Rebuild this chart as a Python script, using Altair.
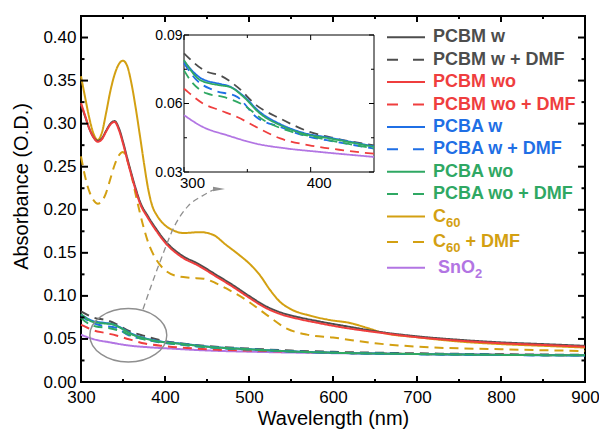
import altair as alt
import pandas as pd

# ---------------- data ----------------
series_names = ["PCBM w", "PCBM w + DMF", "PCBM wo", "PCBM wo + DMF",
                "PCBA w", "PCBA w + DMF", "PCBA wo", "PCBA wo + DMF",
                "C60", "C60 + DMF", "SnO2"]
# legend text split into (main text, subscript, trailing text)
legend_main = ["PCBM w", "PCBM w + DMF", "PCBM wo", "PCBM wo + DMF",
               "PCBA w", "PCBA w + DMF", "PCBA wo", "PCBA wo + DMF",
               "C", "C", "SnO"]
legend_sub = ["", "", "", "", "", "", "", "", "60", "60", "2"]
legend_tail = ["", "", "", "", "", "", "", "", "", "+ DMF", ""]
series_colors = ["#4d4d4d", "#4d4d4d", "#ef3e3e", "#ef3e3e",
                 "#1f6fe5", "#1f6fe5", "#2fa863", "#2fa863",
                 "#d3a012", "#d3a012", "#b275e3"]
series_dashed = [False, True, False, True, False, True, False, True, False, True, False]

pcbm_wl = [300, 305, 310, 315, 320, 325, 330, 335, 340, 345, 350, 355, 360, 365, 370,
           380, 390, 400, 420, 440, 460, 480, 500, 520, 540, 560, 580, 620, 650, 700,
           750, 800, 850, 900]
pcbm_w_ab = [0.322, 0.308, 0.294, 0.284, 0.280, 0.283, 0.292, 0.300, 0.303, 0.295,
             0.279, 0.260, 0.242, 0.225, 0.210, 0.192, 0.177, 0.164, 0.147, 0.137,
             0.125, 0.113, 0.100, 0.088, 0.080, 0.075, 0.071, 0.064, 0.059, 0.053,
             0.049, 0.046, 0.044, 0.042]
pcbm_wo_ab = [0.324, 0.309, 0.294, 0.284, 0.279, 0.282, 0.291, 0.299, 0.302, 0.293,
              0.277, 0.258, 0.240, 0.223, 0.208, 0.190, 0.175, 0.162, 0.145, 0.135,
              0.123, 0.111, 0.098, 0.086, 0.078, 0.073, 0.069, 0.062, 0.058, 0.052,
              0.048, 0.045, 0.043, 0.041]

c60_wl = [300, 305, 310, 315, 320, 325, 330, 335, 340, 345, 350, 355, 360, 365, 370,
          375, 380, 385, 390, 395, 400, 410, 422, 442, 457, 473, 489, 501, 513, 525,
          537, 549, 573, 596, 620, 640, 660, 700, 750, 800, 850, 900]
c60_ab = [0.355, 0.330, 0.306, 0.288, 0.281, 0.290, 0.313, 0.338, 0.357, 0.369,
          0.373, 0.367, 0.347, 0.319, 0.287, 0.254, 0.224, 0.204, 0.194, 0.187,
          0.182, 0.176, 0.173, 0.174, 0.171, 0.159, 0.147, 0.137, 0.124, 0.107,
          0.093, 0.085, 0.077, 0.072, 0.0686, 0.063, 0.057, 0.052, 0.047, 0.044,
          0.042, 0.040]

c60_dmf_wl = [300, 305, 310, 315, 320, 325, 330, 335, 340, 345, 350, 355, 360, 365, 370,
              375, 380, 390, 400, 414, 430, 446, 460, 473, 497, 521, 545, 569, 600, 650,
              700, 800, 900]
c60_dmf_ab = [0.262, 0.238, 0.221, 0.211, 0.207, 0.210, 0.220, 0.236, 0.252, 0.263,
              0.267, 0.258, 0.240, 0.218, 0.197, 0.178, 0.162, 0.1415, 0.130, 0.123,
              0.121, 0.120, 0.115, 0.1086, 0.095, 0.078, 0.062, 0.055, 0.0516, 0.045,
              0.041, 0.038, 0.036]

pcba_wl = [300, 313, 328, 336, 347, 360, 376, 394, 415, 450, 500, 550, 600, 700, 800, 900]
pcba_w_ab = [0.0785, 0.0712, 0.0686, 0.0675, 0.0633, 0.0562, 0.0510, 0.0472, 0.0450,
             0.0412, 0.0381, 0.0356, 0.0340, 0.0324, 0.0314, 0.0308]
pcba_wo_ab = [0.0790, 0.0702, 0.0680, 0.0673, 0.0629, 0.0556, 0.0505, 0.0468, 0.0447,
              0.0410, 0.0380, 0.0355, 0.0340, 0.0325, 0.0315, 0.0310]

pcbm_w_dmf_wl = [300, 318, 328, 342, 357, 376, 399, 420, 450, 500, 550, 600, 700, 800, 900]
pcbm_w_dmf_ab = [0.0820, 0.0739, 0.0724, 0.0673, 0.0593, 0.0534, 0.0476, 0.0447, 0.0417,
                 0.0388, 0.0365, 0.0350, 0.0333, 0.0322, 0.0316]

pcba_w_dmf_wl = [300, 310, 323, 342, 357, 376, 394, 420, 450, 500, 550, 600, 700, 800, 900]
pcba_w_dmf_ab = [0.0776, 0.0702, 0.0659, 0.0629, 0.0541, 0.0497, 0.0461, 0.0432, 0.0403,
                 0.0377, 0.0354, 0.0339, 0.0324, 0.0314, 0.0309]

pcba_wo_dmf_wl = [300, 305, 318, 331, 347, 363, 381, 402, 428, 450, 500, 550, 600, 700, 800, 900]
pcba_wo_dmf_ab = [0.0745, 0.0702, 0.0644, 0.0629, 0.0593, 0.0527, 0.0483, 0.0454, 0.0425,
                  0.0403, 0.0377, 0.0354, 0.0339, 0.0324, 0.0314, 0.0309]

pcbm_wo_dmf_wl = [300, 303, 315, 328, 342, 357, 376, 399, 426, 450, 500, 550, 600, 700, 800, 900]
pcbm_wo_dmf_ab = [0.0665, 0.0651, 0.0600, 0.0571, 0.0541, 0.0497, 0.0447, 0.0417, 0.0395,
                  0.0380, 0.0365, 0.0352, 0.0340, 0.0325, 0.0315, 0.0310]

sno2_wl = [300, 315, 334, 357, 381, 407, 450, 500, 550, 600, 700, 800, 900]
sno2_ab = [0.0549, 0.0497, 0.0461, 0.0424, 0.0403, 0.0388, 0.0366, 0.0352, 0.0342,
           0.0335, 0.0325, 0.0318, 0.0312]

series_data = {
    "PCBM w": (pcbm_wl, pcbm_w_ab),
    "PCBM w + DMF": (pcbm_w_dmf_wl, pcbm_w_dmf_ab),
    "PCBM wo": (pcbm_wl, pcbm_wo_ab),
    "PCBM wo + DMF": (pcbm_wo_dmf_wl, pcbm_wo_dmf_ab),
    "PCBA w": (pcba_wl, pcba_w_ab),
    "PCBA w + DMF": (pcba_w_dmf_wl, pcba_w_dmf_ab),
    "PCBA wo": (pcba_wl, pcba_wo_ab),
    "PCBA wo + DMF": (pcba_wo_dmf_wl, pcba_wo_dmf_ab),
    "C60": (c60_wl, c60_ab),
    "C60 + DMF": (c60_dmf_wl, c60_dmf_ab),
    "SnO2": (sno2_wl, sno2_ab),
}
draw_order = ["C60 + DMF", "C60", "PCBM w", "PCBM wo", "SnO2", "PCBM wo + DMF",
              "PCBM w + DMF", "PCBA w + DMF", "PCBA wo + DMF", "PCBA w", "PCBA wo"]
inset_series = ["SnO2", "PCBM wo + DMF", "PCBM w + DMF", "PCBA w + DMF",
                "PCBA wo + DMF", "PCBA w", "PCBA wo"]

x_major = [300, 400, 500, 600, 700, 800, 900]
x_minor = [350, 450, 550, 650, 750, 850]
y_major = [0.00, 0.05, 0.10, 0.15, 0.20, 0.25, 0.30, 0.35, 0.40]
y_minor = [0.025, 0.075, 0.125, 0.175, 0.225, 0.275, 0.325, 0.375]
inset_x_major = [300, 400]
inset_x_minor = [350]
inset_y_major = [0.03, 0.06, 0.09]
inset_y_minor = [0.045, 0.075]

# annotation (ellipse and arrow) in data units
ellipse_x = [356.3]
ellipse_y = [0.0543]
arrow_x = [373.8, 394.0, 411.9, 427.4, 444.0, 457.1]
arrow_y = [0.0845, 0.1394, 0.1822, 0.2043, 0.2159, 0.2229]
arrowhead_x = [464.3]
arrowhead_y = [0.2241]

# ---------------- layout ----------------
W, H = 504, 366
FONT = "Liberation Sans"
INS_L, INS_R, INS_T, INS_B = 103, 293, 19, 156
LEG_FS, SUB_FS = 18, 13

rows = []
for s in series_names:
    wl, ab = series_data[s]
    for w_, a_ in zip(wl, ab):
        rows.append({"series": s, "wl": w_, "ab": a_})
df = pd.DataFrame(rows)

color_scale = alt.Scale(domain=series_names, range=series_colors)
dash_range = [[9, 6] if d else [1, 0] for d in series_dashed]

main_x = alt.Scale(domain=[300, 900], nice=False, zero=False)
main_y = alt.Scale(domain=[0, 0.425], nice=False, zero=False)

layers = []
for i, s in enumerate(draw_order):
    if i == 0:
        xax = alt.Axis(values=x_major, orient="bottom", format="d", labelFontSize=17,
                       labelPadding=7, labelFlush=False, title="Wavelength (nm)",
                       titleFontSize=20, titleFontWeight="normal", titleY=42,
                       titleBaseline="alphabetic")
        yax = alt.Axis(values=y_major, orient="left", format=".2f", labelFontSize=17,
                       labelPadding=5, title="Absorbance (O.D.)", titleFontSize=20,
                       titleFontWeight="normal", titleX=-60, titleY=170,
                       titleBaseline="middle")
    else:
        xax, yax = None, None
    layers.append(
        alt.Chart(df).mark_line(strokeWidth=2, interpolate="monotone")
        .transform_filter(alt.datum.series == s)
        .encode(x=alt.X("wl:Q", scale=main_x, axis=xax),
                y=alt.Y("ab:Q", scale=main_y, axis=yax),
                color=alt.Color("series:N", scale=color_scale, legend=None),
                strokeDash=alt.StrokeDash("series:N",
                                          scale=alt.Scale(domain=series_names, range=dash_range),
                                          legend=None))
    )

layers.append(alt.Chart(pd.DataFrame({"x": ellipse_x, "y": ellipse_y})).mark_point(
    shape="M -1 0 A 1 0.695 0 1 1 1 0 A 1 0.695 0 1 1 -1 0 Z",
    size=77 * 77, filled=False, stroke="#8f8f8f", strokeWidth=1.4, opacity=1
).encode(x=alt.X("x:Q", scale=main_x, axis=None), y=alt.Y("y:Q", scale=main_y, axis=None)))

layers.append(alt.Chart(pd.DataFrame({"x": arrow_x, "y": arrow_y})).mark_line(
    color="#8f8f8f", strokeWidth=1.3, strokeDash=[6, 4], interpolate="monotone"
).encode(x=alt.X("x:Q", scale=main_x, axis=None), y=alt.Y("y:Q", scale=main_y, axis=None)))

layers.append(alt.Chart(pd.DataFrame({"x": arrowhead_x, "y": arrowhead_y})).mark_point(
    shape="M -1 -0.38 L 1 0 L -1 0.38 Z", size=144, filled=True, color="#8f8f8f", opacity=1
).encode(x=alt.X("x:Q", scale=main_x, axis=None), y=alt.Y("y:Q", scale=main_y, axis=None)))


def xticks(vals, scale, y0, length, width=2):
    d = pd.DataFrame({"v": vals})
    return alt.Chart(d).mark_rule(color="black", strokeWidth=width).encode(
        x=alt.X("v:Q", scale=scale, axis=None), y=alt.value(y0), y2=alt.value(y0 + length))


def yticks(vals, scale, x0, length, width=2):
    d = pd.DataFrame({"v": vals})
    return alt.Chart(d).mark_rule(color="black", strokeWidth=width).encode(
        y=alt.Y("v:Q", scale=scale, axis=None), x=alt.value(x0), x2=alt.value(x0 + length))


layers += [
    xticks(x_major, main_x, H, -6), xticks(x_minor, main_x, H, -3),
    xticks(x_major, main_x, 0, 6), xticks(x_minor, main_x, 0, 3),
    yticks(y_major, main_y, 0, 7), yticks(y_minor, main_y, 0, 3.5),
    yticks(y_major, main_y, W, -7), yticks(y_minor, main_y, W, -3.5),
]

# ---------------- inset ----------------
ins_x = alt.Scale(domain=[300, 450], range=[INS_L, INS_R], nice=False, zero=False)
ins_y = alt.Scale(domain=[0.03, 0.09], range=[INS_B, INS_T], nice=False, zero=False)

layers.append(alt.Chart(pd.DataFrame({"x0": [300], "x1": [450], "y0": [0.03], "y1": [0.09]})).mark_rect(
    fill="white", stroke="black", strokeWidth=1
).encode(
    x=alt.X("x0:Q", scale=ins_x,
            axis=alt.Axis(values=inset_x_major, orient="bottom", offset=-(H - INS_B),
                          format="d", labelFontSize=15, labelPadding=3, labelOffset=8,
                          labelFlush=False, title=None)),
    x2="x1:Q",
    y=alt.Y("y0:Q", scale=ins_y,
            axis=alt.Axis(values=inset_y_major, orient="left", offset=-INS_L,
                          format=".2f", labelFontSize=14, labelPadding=2, title=None)),
    y2="y1:Q",
))

for s in draw_order:
    if s not in inset_series:
        continue
    layers.append(
        alt.Chart(df).mark_line(strokeWidth=1.8, interpolate="monotone")
        .transform_filter((alt.datum.series == s) & (alt.datum.wl <= 450))
        .encode(x=alt.X("wl:Q", scale=ins_x, axis=None),
                y=alt.Y("ab:Q", scale=ins_y, axis=None),
                color=alt.Color("series:N", scale=color_scale, legend=None),
                strokeDash=alt.StrokeDash("series:N",
                                          scale=alt.Scale(domain=series_names, range=dash_range),
                                          legend=None))
    )

layers += [
    xticks(inset_x_major, ins_x, INS_B, -5, 1), xticks(inset_x_minor, ins_x, INS_B, -3, 1),
    xticks(inset_x_major, ins_x, INS_T, 5, 1), xticks(inset_x_minor, ins_x, INS_T, 3, 1),
    yticks(inset_y_major, ins_y, INS_L, 5, 1), yticks(inset_y_minor, ins_y, INS_L, 3, 1),
    yticks(inset_y_major, ins_y, INS_R, -5, 1), yticks(inset_y_minor, ins_y, INS_R, -3, 1),
]

# ---------------- legend ----------------
# approximate advance widths (em) of Liberation Sans Bold, used to place subscripts
ADV = {"C": 0.722, "S": 0.667, "n": 0.611, "O": 0.778, "6": 0.556, "0": 0.556, "2": 0.556,
       " ": 0.278}


def text_w(t, fs):
    return sum(ADV.get(ch, 0.6) for ch in t) * fs


ypos = []
y_cur = 21.3
for i in range(len(series_names)):
    if i > 0:
        y_cur += 22.4
        if legend_sub[i - 1]:
            y_cur += 3.2
    ypos.append(y_cur)

TXT_X = 352
pieces_main, pieces_sub = [], []
for i, s in enumerate(series_names):
    x0 = TXT_X + (5 if s == "SnO2" else 0)
    pieces_main.append({"series": s, "t": legend_main[i], "px": x0, "ypos": ypos[i]})
    if legend_sub[i]:
        xs = x0 + text_w(legend_main[i], LEG_FS)
        pieces_sub.append({"series": s, "t": legend_sub[i], "px": xs, "ypos": ypos[i]})
        if legend_tail[i]:
            xt = xs + text_w(legend_sub[i], SUB_FS) + text_w(" ", LEG_FS)
            pieces_main.append({"series": s, "t": legend_tail[i], "px": xt, "ypos": ypos[i]})

leg_df = pd.DataFrame({"series": series_names, "ypos": ypos})
leg_y = alt.Scale(domain=[0, H], range=[0, H], nice=False, zero=False)
leg_x = alt.Scale(domain=[0, W], range=[0, W], nice=False, zero=False)
leg_dash = [[11, 15] if d else [1, 0] for d in series_dashed]

layers.append(alt.Chart(leg_df).mark_rule(strokeWidth=2).encode(
    x=alt.value(306), x2=alt.value(344),
    y=alt.Y("ypos:Q", scale=leg_y, axis=None),
    color=alt.Color("series:N", scale=color_scale, legend=None),
    strokeDash=alt.StrokeDash("series:N", scale=alt.Scale(domain=series_names, range=leg_dash),
                              legend=None),
))
layers.append(alt.Chart(pd.DataFrame(pieces_main)).mark_text(
    align="left", baseline="middle", font=FONT, fontSize=LEG_FS, fontWeight="bold"
).encode(
    x=alt.X("px:Q", scale=leg_x, axis=None),
    y=alt.Y("ypos:Q", scale=leg_y, axis=None),
    text="t:N",
    color=alt.Color("series:N", scale=color_scale, legend=None),
))
layers.append(alt.Chart(pd.DataFrame(pieces_sub)).mark_text(
    align="left", baseline="middle", font=FONT, fontSize=SUB_FS, fontWeight="bold", dy=6
).encode(
    x=alt.X("px:Q", scale=leg_x, axis=None),
    y=alt.Y("ypos:Q", scale=leg_y, axis=None),
    text="t:N",
    color=alt.Color("series:N", scale=color_scale, legend=None),
))

chart = alt.layer(*layers).resolve_scale(
    x="independent", y="independent", strokeDash="independent"
).properties(
    width=W, height=H,
    autosize=alt.AutoSizeParams(type="none"),
    padding={"left": 81, "top": 16, "right": 14, "bottom": 48},
    background="white",
).configure_view(stroke="black", strokeWidth=2).configure_axis(
    labelFont=FONT, titleFont=FONT, labelColor="black", titleColor="black",
    grid=False, ticks=False, domain=False,
)

chart.save("out.html", embed_options={"renderer": "svg", "actions": False})
